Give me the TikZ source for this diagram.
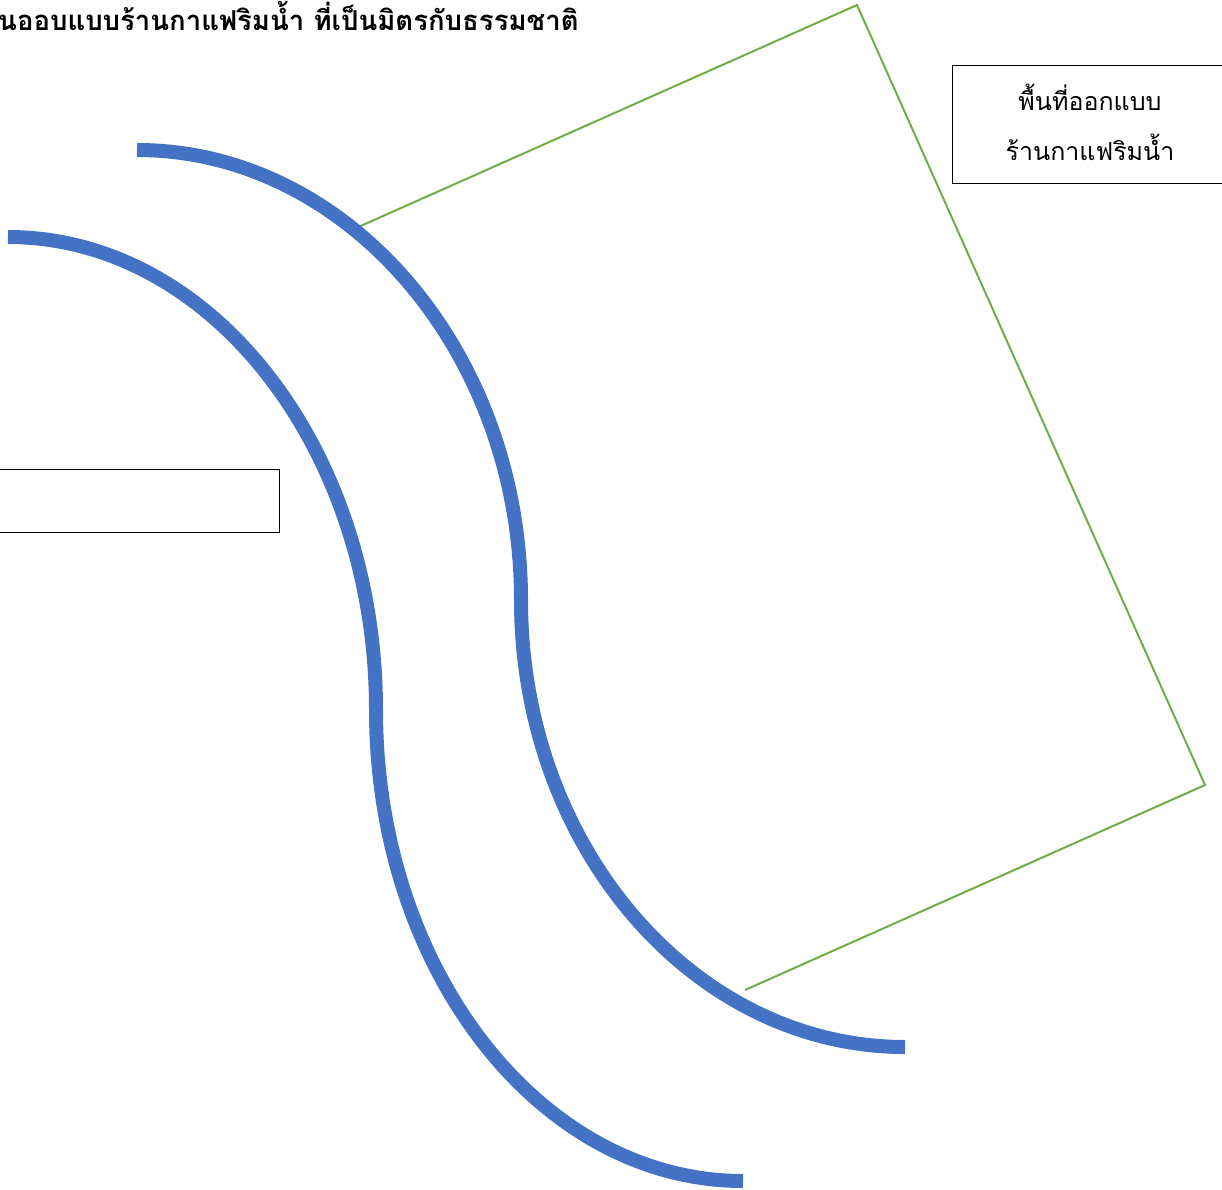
\documentclass[tikz,border=0pt]{standalone}
\usepackage{fontspec}
\newfontfamily\thaifont[Script=Thai]{Loma}
\definecolor{riverblue}{HTML}{4472C4}
\definecolor{zonegreen}{HTML}{70AD47}
\tikzset{
  river/.style={draw=riverblue, line width=14pt},
  zone/.style={draw=zonegreen, line width=2pt, line join=miter},
  labelbox/.style={draw=black, line width=1pt, fill=white},
}
\begin{document}
\begin{tikzpicture}[x=1pt,y=-1pt]
\useasboundingbox (0,0) rectangle (1222,1189);
% green design area
\coordinate (g1) at (355,228.5);
\coordinate (g2) at (857,5);
\coordinate (g3) at (1205,785);
\coordinate (g4) at (745,990);
\draw[zone] (g1) -- (g2) -- (g3) -- (g4);
% rivers
\coordinate (r1a) at (137,150);
\coordinate (r1b) at (521,600);
\coordinate (r1c) at (905,1047);
\draw[river] (r1a) .. controls (347,150) and (521,351.5) .. (r1b)
  .. controls (521,846.9) and (693.5,1047) .. (r1c);
\coordinate (r2a) at (8,237);
\coordinate (r2b) at (376,710);
\coordinate (r2c) at (743,1181);
\draw[river] (r2a) .. controls (211.2,237) and (376,448.8) .. (r2b)
  .. controls (376,970.1) and (540.3,1181) .. (r2c);
% boxes
\draw[labelbox] (952,65) rectangle (1224,183);
\node[font=\thaifont\fontsize{25}{50}\selectfont, align=center] (areaLabel) at (1090,122)
  {พื้นที่ออกแบบ\\ร้านกาแฟริมน้ำ};
\draw[labelbox] (-3,469) rectangle (279,532);
\node (leftbox) at (138,500) {};
% title
\node[anchor=west, inner sep=0pt, font=\thaifont\bfseries\fontsize{27.5}{34}\selectfont] (title) at (-2,16)
  {นออบแบบร้านกาแฟริมน้ำ ที่เป็นมิตรกับธรรมชาติ};
\end{tikzpicture}
\end{document}
